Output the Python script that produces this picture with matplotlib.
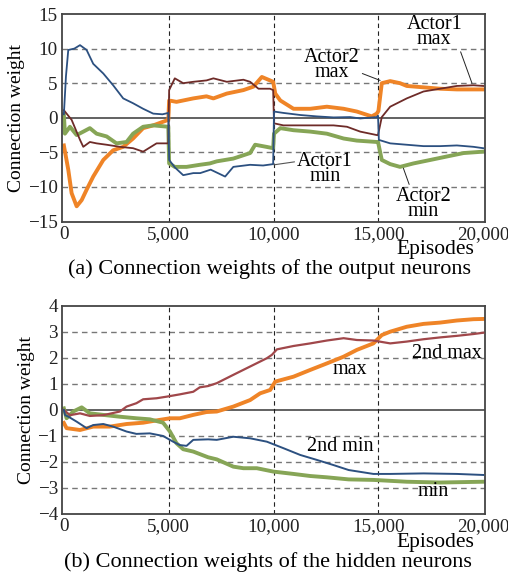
import matplotlib.pyplot as plt
from matplotlib.ticker import FuncFormatter

plt.rcParams['font.family'] = ['Liberation Serif', 'DejaVu Serif']

# ---- (a) output neurons ----
a1min_ep = [0, 100, 210, 500, 770, 1085, 1400, 1880, 2350, 2830, 3300, 3780, 4260, 4700, 4980, 5020, 5300,
            5690, 6170, 6500, 7000, 7690, 8080, 8880, 9500, 9980, 10020, 10470, 11270, 12060, 12860, 13650,
            14130, 14920, 14980, 15020, 15560, 16350, 17150, 17940, 18740, 19530, 20000]
a1min_w = [0.5, 6.0, 9.8, 10.0, 10.5, 9.8, 7.8, 6.4, 4.7, 2.8, 2.1, 1.3, 0.6, 0.5, 0.7, -6.1, -7.2,
           -8.3, -8.0, -8.0, -7.5, -8.5, -7.1, -6.8, -6.9, -6.7, 0.9, 0.7, 0.4, 0.2, 0.05, 0.1,
           -0.1, 0.1, 0.3, -3.2, -3.7, -3.9, -4.1, -4.1, -4.0, -4.2, -4.4]

a1max_ep = [0, 130, 370, 770, 925, 1240, 1560, 2040, 2670, 3300, 3780, 4420, 4980, 5020, 5290, 5690, 6170,
            6800, 7130, 7770, 8560, 8880, 9280, 9830, 9980, 10020, 10470, 11270, 12060, 12860, 13500, 14130,
            14920, 14980, 15160, 15560, 16350, 17150, 17940, 18740, 19530, 20000]
a1max_w = [1.1, 0.6, -0.3, -3.2, -4.2, -3.5, -3.7, -3.9, -4.2, -4.4, -4.9, -3.7, -3.7, 4.0, 5.7, 5.0, 5.2,
           5.4, 5.7, 5.2, 5.5, 5.2, 4.2, 4.2, 4.0, -0.8, -1.1, -1.1, -1.1, -1.1, -1.3, -2.0,
           -2.5, -2.5, 0.1, 1.6, 2.8, 3.8, 4.2, 4.6, 4.7, 4.6]

a2max_ep = [0, 210, 370, 610, 850, 1085, 1400, 1880, 2350, 2830, 3300, 3780, 4260, 4980, 5020, 5370, 6170,
            6800, 7130, 7770, 8560, 9040, 9440, 9830, 9980, 10080, 10320, 10950, 11750, 12540, 13340, 13970,
            14680, 14920, 15000, 15160, 15560, 16030, 16350, 17150, 17940, 18740, 20000]
a2max_w = [-4.0, -7.5, -10.9, -12.8, -11.9, -10.4, -8.5, -6.1, -4.7, -4.2, -3.0, -1.5, -1.1, -0.3, 2.5, 2.3, 2.8,
           3.1, 2.8, 3.5, 4.0, 4.5, 5.9, 5.4, 5.2, 3.5, 2.5, 1.3, 1.3, 1.6, 1.3, 0.9,
           0.2, 0.6, 1.0, 5.0, 5.3, 5.0, 4.6, 4.4, 4.2, 4.1, 4.1]

a2min_ep = [0, 50, 290, 610, 930, 1240, 1560, 2040, 2510, 2990, 3300, 3780, 4260, 4980, 5020, 5290, 5850,
            6480, 6960, 7290, 8080, 8880, 9000, 9120, 9650, 9980, 10020, 10320, 10950, 11750, 12540, 13340,
            13970, 14920, 14980, 15160, 15560, 16030, 16670, 17470, 18260, 19060, 20000]
a2min_w = [0.5, -2.3, -1.3, -2.5, -2.0, -1.5, -2.3, -2.7, -3.7, -3.5, -2.3, -1.3, -1.1, -1.3, -6.6, -7.1, -7.1,
           -6.8, -6.6, -6.3, -5.9, -5.1, -4.5, -3.9, -4.2, -4.4, -2.3, -1.5, -1.8, -2.0, -2.3, -3.0,
           -3.3, -3.5, -3.5, -6.1, -6.7, -7.1, -6.6, -6.1, -5.6, -5.1, -4.9]

# ---- (b) hidden neurons ----
h2max_ep = [0, 290, 770, 1240, 1880, 2670, 2990, 3460, 3780, 4420, 4890, 5530, 6170, 6480, 6880, 7290, 8080,
            8880, 9680, 9920, 10160, 10950, 11750, 12540, 13340, 13970, 14760, 15560, 16350, 17150, 17940,
            18740, 19530, 20000]
h2max_w = [0.0, -0.2, -0.13, -0.23, -0.2, -0.06, 0.13, 0.26, 0.41, 0.45, 0.51, 0.6, 0.7, 0.87, 0.92, 1.03, 1.35,
           1.67, 1.99, 2.12, 2.33, 2.46, 2.56, 2.67, 2.76, 2.69, 2.67, 2.56, 2.63, 2.72, 2.79,
           2.85, 2.92, 2.97]

hmax_ep = [0, 130, 770, 1400, 2190, 2990, 3780, 4580, 5060, 5530, 6170, 6800, 7290, 8080, 8880, 9360, 9840,
           10080, 10950, 11750, 12540, 13340, 13970, 14760, 15160, 15560, 16350, 17150, 17940, 18740, 19530, 20000]
hmax_w = [-0.5, -0.7, -0.77, -0.64, -0.64, -0.54, -0.49, -0.38, -0.32, -0.32, -0.19, -0.08, -0.06, 0.13, 0.38, 0.64, 0.77,
          1.09, 1.28, 1.54, 1.79, 2.05, 2.31, 2.56, 2.88, 3.01, 3.2, 3.31, 3.36, 3.44, 3.49, 3.5]

h2min_ep = [0, 60, 220, 610, 1085, 1400, 1880, 2350, 2990, 3460, 4100, 4730, 5210, 5530, 5850, 6170, 6880,
            7290, 8080, 8880, 9680, 10470, 11270, 12060, 12860, 13580, 14760, 15560, 17150, 18740, 20000]
h2min_w = [0.0, -0.2, -0.26, -0.45, -0.7, -0.58, -0.54, -0.64, -0.83, -0.92, -0.9, -1.0, -1.22, -1.35, -1.38, -1.15, -1.13,
           -1.15, -1.03, -1.09, -1.22, -1.47, -1.73, -1.92, -2.12, -2.31, -2.46, -2.46, -2.44, -2.46, -2.5]

hmin_ep = [0, 130, 450, 850, 1240, 1880, 2670, 3460, 4100, 4730, 5060, 5370, 5690, 6170, 6880, 7290, 8080,
           8560, 9200, 9990, 10950, 11750, 12540, 13580, 14760, 16350, 17940, 20000]
hmin_w = [0.06, -0.32, -0.06, 0.1, -0.13, -0.19, -0.26, -0.32, -0.36, -0.49, -0.83, -1.28, -1.51, -1.6, -1.82, -1.9, -2.18,
          -2.24, -2.24, -2.37, -2.46, -2.54, -2.59, -2.67, -2.69, -2.76, -2.79, -2.76]

x_ticks = [0, 5000, 10000, 15000, 20000]

BLUE = '#2c5080'
BROWN = '#6e2b28'
BROWN_B = '#a0474a'
ORANGE = '#ef8427'
GREEN = '#86a556'

fig = plt.figure(figsize=(5.08, 5.79), dpi=100)
ax1 = fig.add_axes([0.122, 0.6174, 0.8335, 0.3584])
ax2 = fig.add_axes([0.122, 0.1123, 0.8335, 0.3593])


def style(ax, ylim, yticks, ep_y):
    ax.set_xlim(-90, 20100)
    ax.set_ylim(*ylim)
    ax.set_xticks(x_ticks)
    ax.set_yticks(yticks)
    ax.xaxis.set_major_formatter(FuncFormatter(lambda v, p: f'{int(v):,}'))
    ax.tick_params(length=0, labelsize=13.8, colors='#222222', pad=3)
    for s in ax.spines.values():
        s.set_color('#444444')
        s.set_linewidth(1.3)
    for y in yticks[1:-1]:
        if y == 0:
            ax.axhline(0, color='#555555', lw=1.3, zorder=1)
        else:
            ax.axhline(y, color='#777777', lw=1.0, ls=(0, (4, 3)), zorder=1)
    for x in x_ticks[1:-1]:
        ax.axvline(x, color='#222222', lw=0.8, ls=(0, (4, 3)), zorder=1)
    ax.set_ylabel('Connection weight', fontsize=14, labelpad=2)
    ax.text(0.975, ep_y, 'Episodes', transform=ax.transAxes, ha='right', va='baseline', fontsize=15.5)


style(ax1, (-15, 15), [-15, -10, -5, 0, 5, 10, 15], -0.158)
style(ax2, (-4, 4), [-4, -3, -2, -1, 0, 1, 2, 3, 4], -0.158)

# top panel
ax1.plot(a2max_ep, a2max_w, color=ORANGE, lw=2.8, zorder=2)
ax1.plot(a2min_ep, a2min_w, color=GREEN, lw=2.8, zorder=2)
ax1.plot(a1max_ep, a1max_w, color=BROWN, lw=1.3, zorder=3)
ax1.plot(a1min_ep, a1min_w, color=BLUE, lw=1.3, zorder=3)

tk = dict(fontsize=14.5, ha='center', va='center', linespacing=0.72)
ax1.annotate('Actor1\nmax', xy=(19460, 5.0), xytext=(17660, 12.4),
             arrowprops=dict(arrowstyle='-', color='#222222', lw=0.7, shrinkA=0, shrinkB=0,
                             relpos=(0.9, 0.25)), **tk)
ax1.annotate('Actor2\nmax', xy=(15080, 5.4), xytext=(12770, 7.6),
             arrowprops=dict(arrowstyle='-', color='#222222', lw=0.7, shrinkA=0, shrinkB=0,
                             relpos=(0.98, 0.3)), **tk)
ax1.annotate('Actor1\nmin', xy=(10020, -6.8), xytext=(12460, -7.4),
             arrowprops=dict(arrowstyle='-', color='#555555', lw=0.8, shrinkA=0, shrinkB=0,
                             relpos=(0.0, 0.72)), **tk)
ax1.annotate('Actor2\nmin', xy=(16190, -7.3), xytext=(17150, -12.5),
             arrowprops=dict(arrowstyle='-', color='#222222', lw=0.7, shrinkA=0, shrinkB=0,
                             relpos=(0.26, 1.0)), **tk)

# bottom panel
ax2.plot(hmax_ep, hmax_w, color=ORANGE, lw=2.8, zorder=2)
ax2.plot(hmin_ep, hmin_w, color=GREEN, lw=2.8, zorder=2)
ax2.plot(h2max_ep, h2max_w, color=BROWN_B, lw=1.6, zorder=3)
ax2.plot(h2min_ep, h2min_w, color=BLUE, lw=1.4, zorder=3)

lk = dict(fontsize=14.5, ha='center', va='center')
ax2.text(18260, 2.18, '2nd max', **lk)
ax2.text(13650, 1.54, 'max', **lk)
ax2.text(13170, -1.41, '2nd min', **lk)
ax2.text(17620, -3.14, 'min', **lk)

fig.text(0.53, 1 - 274 / 579, '(a) Connection weights of the output neurons', fontsize=16,
         ha='center', va='baseline')
fig.text(0.527, 1 - 567 / 579, '(b) Connection weights of the hidden neurons', fontsize=16,
         ha='center', va='baseline')

fig.savefig('out.png', dpi=100)
